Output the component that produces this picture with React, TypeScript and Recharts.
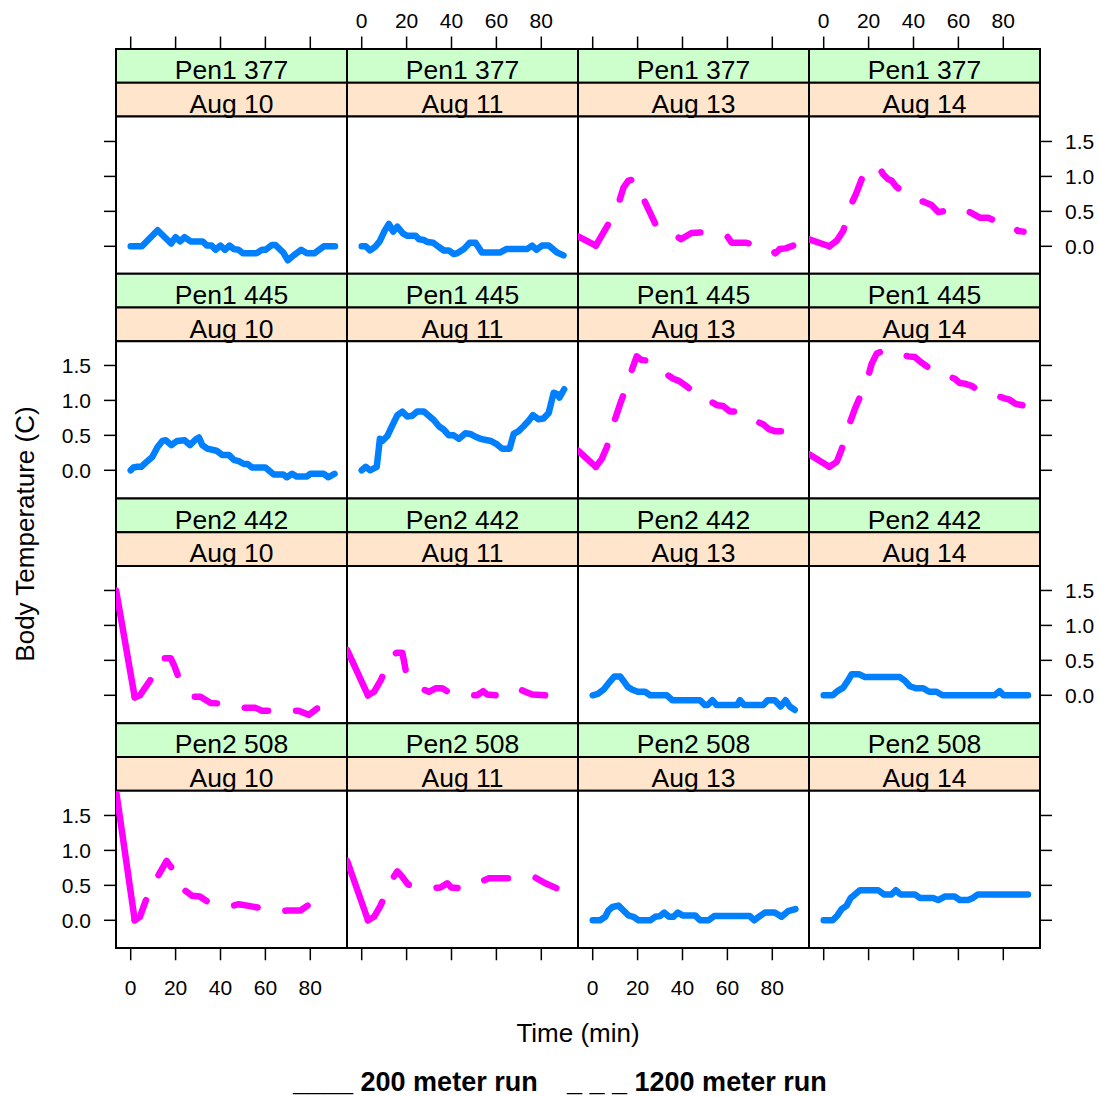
import React from 'react';
import { LineChart, Line, XAxis, YAxis } from 'recharts';

// lattice-like colours
const BLUE = '#0080ff';
const MAGENTA = '#ff00ff';
const STRIP_OUTER = '#ccffcc';
const STRIP_INNER = '#ffe5cc';
const FONT = '"Liberation Sans", Arial, Helvetica, sans-serif';

const pens = ['Pen1 377', 'Pen1 445', 'Pen2 442', 'Pen2 508'];
const days = ['Aug 10', 'Aug 11', 'Aug 13', 'Aug 14'];
const timeTicks = [0, 20, 40, 60, 80];
const tempTicks = [0, 0.5, 1, 1.5];

type Pt = [number, number]; // [time (min), body temperature change (C)]

const pen1_377_aug10: Pt[] = [
  [0, 0], [5, 0], [12, 0.23], [18, 0.04], [20, 0.13], [22, 0.07], [24, 0.13], [26.7, 0.07], [32, 0.07],
  [34, 0.01], [36, 0.01], [37.8, -0.05], [40, 0.01], [42, -0.05], [44, 0.01], [46, -0.04], [48, -0.05],
  [50, -0.1], [56, -0.1], [58.5, -0.05], [60, -0.05], [63, 0.02], [64.4, 0.02], [68, -0.09], [70, -0.2],
  [72.6, -0.13], [75.9, -0.05], [78.5, -0.1], [81.8, -0.1], [86, 0], [91, 0],
];
const pen1_377_aug11: Pt[] = [
  [0, 0], [1.8, 0], [3.7, -0.06], [6.2, 0], [8, 0.07], [10.2, 0.22], [12.1, 0.32], [14, 0.21], [15.9, 0.28],
  [18.5, 0.18], [20.3, 0.15], [24, 0.15], [25.5, 0.1], [27.7, 0.09], [29.2, 0.06], [31.9, 0.05], [34.4, -0.01],
  [36.6, -0.06], [38.8, -0.06], [41, -0.11], [42.5, -0.1], [45.5, -0.04], [48.1, 0.05], [50.7, 0.05],
  [53.6, -0.09], [61.5, -0.09], [64.4, -0.04], [73.6, -0.04], [75.9, 0.01], [77.8, -0.05], [80.3, 0.01],
  [83.3, 0.01], [87, -0.09], [89.9, -0.13],
];
const pen1_377_aug13: Pt[] = [
  [-6.5, 0.14], [1.4, 0.01], [7, 0.32], [11.9, 0.65], [13.7, 0.84], [15.9, 0.94], [18.6, 0.96], [22.6, 0.68],
  [28.2, 0.3], [37.7, 0.14], [39.3, 0.1], [44, 0.19], [48.5, 0.2], [57.4, 0.15], [60, 0.14], [61.9, 0.05],
  [68.5, 0.05], [78.9, -0.03], [81.4, -0.1], [83.3, -0.04], [85.9, -0.03], [89.3, 0.01],
];
const pen1_377_aug14: Pt[] = [
  [-6.5, 0.1], [2.5, 0], [5.8, 0.08], [8.7, 0.22], [12.1, 0.59], [14.4, 0.75], [16.9, 0.96], [24.3, 1.15],
  [26.5, 1.03], [28.7, 0.96], [30.2, 0.94], [32.4, 0.85], [41, 0.66], [44.3, 0.64], [48, 0.59], [51, 0.49],
  [61.8, 0.54], [65, 0.49], [69.5, 0.41], [73.2, 0.41], [82.1, 0.28], [85, 0.27], [86.5, 0.22], [89, 0.21],
];

const pen1_445_aug10: Pt[] = [
  [0, 0], [1.2, 0.04], [3, 0.05], [4.7, 0.05], [6.7, 0.11], [9.6, 0.19], [11.9, 0.33], [14.1, 0.42],
  [15.6, 0.43], [18.1, 0.36], [20.7, 0.42], [24, 0.43], [26.4, 0.36], [28.9, 0.44], [30.4, 0.47], [31.9, 0.36],
  [34.1, 0.31], [38.2, 0.28], [40.7, 0.22], [43.7, 0.22], [45.9, 0.15], [48.1, 0.13], [50.4, 0.09],
  [52.1, 0.09], [54, 0.04], [60, 0.04], [63.7, -0.06], [67.9, -0.06], [69.6, -0.1], [71.9, -0.05],
  [74, -0.09], [78.5, -0.09], [80, -0.05], [86, -0.05], [88.1, -0.1], [90.8, -0.05],
];
const pen1_445_aug11: Pt[] = [
  [0, 0], [1.8, 0.05], [3.7, 0], [6.7, 0.05], [8.1, 0.45], [9.2, 0.42], [11.4, 0.49], [13.6, 0.64],
  [15.9, 0.79], [18.1, 0.84], [20.3, 0.77], [22.5, 0.78], [24.7, 0.84], [27.7, 0.84], [29.9, 0.78],
  [32.1, 0.72], [34.4, 0.63], [36.6, 0.58], [38.8, 0.5], [41, 0.5], [43.3, 0.45], [46.2, 0.53], [48.4, 0.52],
  [50.7, 0.48], [52.9, 0.45], [57.6, 0.42], [60.3, 0.37], [62.5, 0.31], [65.9, 0.31], [67.7, 0.52],
  [69.9, 0.56], [72.1, 0.63], [74.4, 0.71], [76.3, 0.79], [78.8, 0.73], [81, 0.74], [83.3, 0.82],
  [85.5, 1.11], [87, 1.09], [88.1, 1.04], [90.2, 1.16],
];
const pen1_445_aug13: Pt[] = [
  [-6.5, 0.28], [1.4, 0.05], [4, 0.16], [6.3, 0.33], [9.7, 0.71], [11.2, 0.85], [12.2, 0.95], [13.7, 1.08],
  [17.7, 1.46], [19.6, 1.63], [21.6, 1.58], [24.1, 1.57], [26, 1.52], [35.9, 1.31], [38.4, 1.28],
  [41.9, 1.2], [45.9, 1.1], [55.6, 0.93], [58.1, 0.92], [61.1, 0.84], [63.3, 0.84], [65.6, 0.79],
  [75.9, 0.66], [78.4, 0.59], [81.1, 0.56], [87.8, 0.56],
];
const pen1_445_aug14: Pt[] = [
  [-6.5, 0.23], [2.5, 0.05], [5.8, 0.12], [8, 0.3], [11.4, 0.66], [13.9, 0.88], [15.9, 1.03], [20.3, 1.4],
  [21.3, 1.52], [23.6, 1.67], [27.3, 1.72], [37.6, 1.63], [40.6, 1.62], [43.6, 1.54], [48.4, 1.43],
  [58.4, 1.31], [60.6, 1.25], [62.8, 1.24], [65.8, 1.21], [68.7, 1.15], [80.6, 1.03], [82.8, 1.01],
  [85.5, 0.95], [88.7, 0.93],
];

const pen2_442_aug10: Pt[] = [
  [-6.5, 1.5], [1.8, -0.03], [4.1, 0], [8.6, 0.21], [13.6, 0.53], [17.8, 0.53], [19.3, 0.43], [21.5, 0.24],
  [28.4, -0.02], [31.1, -0.02], [35.6, -0.11], [40.7, -0.12], [51.1, -0.18], [55.6, -0.18], [58.5, -0.22],
  [63.7, -0.22], [74.8, -0.22], [79.3, -0.28], [83, -0.19], [85.9, -0.18],
];
const pen2_442_aug11: Pt[] = [
  [-6.5, 0.65], [2.8, 0], [5.5, 0.05], [8.4, 0.21], [13.6, 0.57], [15.6, 0.61], [18.1, 0.61], [19.6, 0.36],
  [27.7, 0.08], [29.9, 0.05], [32.9, 0.1], [35.9, 0.1], [38.4, 0.05], [47.3, 0], [51.4, 0], [54.1, 0.06],
  [55.9, 0.01], [60, 0], [69.5, 0.1], [72.9, 0.05], [75.9, 0.01], [81.8, 0],
];
const pen2_442_aug13: Pt[] = [
  [0, 0], [2.3, 0.02], [4.8, 0.08], [7, 0.17], [9.7, 0.27], [12.2, 0.27], [14.1, 0.19], [15.6, 0.12],
  [17.7, 0.08], [20.1, 0.05], [23.3, 0.05], [25.6, 0], [33, 0], [35.5, -0.07], [47.8, -0.07], [50, -0.14],
  [51.2, -0.14], [53.3, -0.07], [55.2, -0.14], [64.4, -0.14], [65.6, -0.07], [67.5, -0.14], [75.9, -0.14],
  [77.9, -0.07], [81.1, -0.07], [83.7, -0.16], [85.9, -0.07], [87.8, -0.16], [90, -0.21],
];
const pen2_442_aug14: Pt[] = [
  [0, 0], [4, 0], [6.1, 0.06], [8.7, 0.11], [11, 0.22], [12.4, 0.3], [15.9, 0.3], [18.4, 0.26], [33.9, 0.26],
  [36.1, 0.21], [38.4, 0.13], [41, 0.1], [44.3, 0.1], [47, 0.05], [50.2, 0.05], [52.9, 0], [76.1, 0],
  [78.4, 0.06], [80.1, 0], [91, 0],
];

const pen2_508_aug10: Pt[] = [
  [-6.5, 1.85], [1.8, 0], [4.1, 0.05], [6.7, 0.28], [11.9, 0.62], [16, 0.85], [18.5, 0.74], [24, 0.43],
  [27.4, 0.35], [30.8, 0.34], [34.1, 0.27], [45.6, 0.21], [48.1, 0.23], [51.9, 0.21], [57, 0.18],
  [66.7, 0.13], [69.6, 0.14], [75.6, 0.14], [78.8, 0.21],
];
const pen2_508_aug11: Pt[] = [
  [-6.5, 0.85], [2.8, 0], [5.5, 0.05], [8.4, 0.21], [13.2, 0.57], [15.9, 0.7], [18.1, 0.62], [20.7, 0.51],
  [31.4, 0.46], [35.1, 0.47], [38.1, 0.53], [39.9, 0.47], [43.7, 0.46], [53.6, 0.56], [56.6, 0.6], [67, 0.6],
  [76.9, 0.62], [79.6, 0.57], [81.8, 0.53], [86.7, 0.46],
];
const pen2_508_aug13: Pt[] = [
  [0, 0], [3.3, 0], [5.6, 0.05], [7, 0.14], [8.8, 0.19], [11.5, 0.21], [13.7, 0.14], [15.9, 0.07],
  [18.1, 0.05], [20.4, 0], [25.6, 0], [27.8, 0.05], [30, 0.06], [31.9, 0.11], [34, 0.05], [35.9, 0.05],
  [37.9, 0.11], [40, 0.07], [45.6, 0.07], [47.8, 0], [51.5, 0], [54.1, 0.06], [70, 0.06], [71.9, 0],
  [74.4, 0.06], [76.7, 0.11], [81.1, 0.11], [84.1, 0.05], [87, 0.13], [90.3, 0.16],
];
const pen2_508_aug14: Pt[] = [
  [0, 0], [4, 0], [6.1, 0.07], [8, 0.16], [10.2, 0.21], [12, 0.32], [13.9, 0.37], [16.1, 0.43], [24.3, 0.43],
  [26.8, 0.37], [30.2, 0.37], [32.1, 0.43], [34.2, 0.37], [40.6, 0.37], [42.8, 0.32], [48.7, 0.32],
  [51, 0.29], [53.9, 0.34], [58.4, 0.34], [60.6, 0.29], [64.3, 0.29], [66.5, 0.32], [68.7, 0.37], [91, 0.37],
];

// which run each panel belongs to (200 m = solid blue, 1200 m = dashed magenta)
const panelSeries: Pt[][][] = [
  [pen1_377_aug10, pen1_377_aug11, pen1_377_aug13, pen1_377_aug14],
  [pen1_445_aug10, pen1_445_aug11, pen1_445_aug13, pen1_445_aug14],
  [pen2_442_aug10, pen2_442_aug11, pen2_442_aug13, pen2_442_aug14],
  [pen2_508_aug10, pen2_508_aug11, pen2_508_aug13, pen2_508_aug14],
];
const panelRun: number[][] = [
  [200, 200, 1200, 1200],
  [200, 200, 1200, 1200],
  [1200, 1200, 200, 200],
  [1200, 1200, 200, 200],
];

// layout
const LEFT = 116;
const COLW = 231;
const TOP = 49;
const STRIPH = 33.75;
const PANELH = 157.25;
const ROWH = STRIPH * 2 + PANELH;
const PAD = 120;
const AX = 40; // space given to an outer axis
const XDOM: [number, number] = [-6.55, 96.35];
const YDOM: [number, number] = [-0.4, 1.85];
const TICK_FONT = 21;

const tickStyle = { fill: '#000', fontSize: TICK_FONT, fontFamily: FONT };
const tickLine = { stroke: '#000', strokeWidth: 1.5 };

const TopTick = ({ x, payload, showLabel }: any) => {
  const yb = PAD - 2 * STRIPH;
  return (
    <g>
      <line x1={x} x2={x} y1={yb - 13} y2={yb} stroke="#000" strokeWidth={1.5} />
      {showLabel && (
        <text x={x} y={yb - 21.5} textAnchor="middle" fontSize={TICK_FONT} fontFamily={FONT} fill="#000">
          {payload.value}
        </text>
      )}
    </g>
  );
};

const Panel = ({ r, c }: { r: number; c: number }) => {
  const x0 = LEFT + c * COLW;
  const y0 = TOP + r * ROWH + 2 * STRIPH;
  const pts = panelSeries[r][c].map(([t, v]) => ({ t, v }));
  const long = panelRun[r][c] === 1200;
  const lineProps = {
    type: 'linear' as const,
    dataKey: 'v',
    strokeWidth: 6.5,
    dot: false,
    activeDot: false,
    isAnimationActive: false,
    strokeLinecap: 'round' as const,
    strokeLinejoin: 'round' as const,
  };
  const margin = {
    top: r === 0 ? PAD - AX : PAD,
    bottom: r === 3 ? PAD - AX : PAD,
    left: c === 0 ? PAD - AX : PAD,
    right: c === 3 ? PAD - AX : PAD,
  };
  return (
    <div style={{ position: 'absolute', left: x0 - PAD, top: y0 - PAD }}>
      <LineChart width={COLW + 2 * PAD} height={PANELH + 2 * PAD} margin={margin}>
        {r === 0 ? (
          <XAxis
            type="number"
            dataKey="t"
            domain={XDOM}
            allowDataOverflow
            ticks={timeTicks}
            interval={0}
            orientation="top"
            height={AX}
            axisLine={false}
            tickLine={false}
            tick={(p: any) => <TopTick {...p} showLabel={c % 2 === 1} />}
          />
        ) : r === 3 ? (
          <XAxis
            type="number"
            dataKey="t"
            domain={XDOM}
            allowDataOverflow
            ticks={timeTicks}
            interval={0}
            orientation="bottom"
            height={AX}
            axisLine={false}
            tickLine={tickLine}
            tickSize={12}
            tickMargin={20}
            tick={tickStyle}
            tickFormatter={(v: number) => (c % 2 === 0 ? String(v) : '')}
          />
        ) : (
          <XAxis type="number" dataKey="t" domain={XDOM} allowDataOverflow hide />
        )}
        {c === 0 || c === 3 ? (
          <YAxis
            type="number"
            domain={YDOM}
            allowDataOverflow
            ticks={tempTicks}
            interval={0}
            orientation={c === 0 ? 'left' : 'right'}
            width={AX}
            axisLine={false}
            tickLine={tickLine}
            tickSize={12}
            tickMargin={13}
            tick={tickStyle}
            tickFormatter={(v: number) =>
              (c === 0 ? r % 2 === 1 : r % 2 === 0) ? v.toFixed(1) : ''
            }
          />
        ) : (
          <YAxis type="number" domain={YDOM} allowDataOverflow hide />
        )}
        {long ? (
          <>
            <Line {...lineProps} data={pts.slice(0, 2)} stroke={MAGENTA} />
            <Line {...lineProps} data={pts.slice(1)} stroke={MAGENTA} strokeDasharray="24 28" />
          </>
        ) : (
          <Line {...lineProps} data={pts} stroke={BLUE} />
        )}
      </LineChart>
    </div>
  );
};

export default function App() {
  const cells: React.ReactNode[] = [];
  const frames: React.ReactNode[] = [];
  pens.forEach((pen, r) => {
    days.forEach((day, c) => {
      const x = LEFT + c * COLW;
      const y = TOP + r * ROWH;
      frames.push(
        <g key={`f-${r}-${c}`}>
          <rect x={x} y={y} width={COLW} height={STRIPH} fill={STRIP_OUTER} stroke="#000" strokeWidth={2} />
          <rect x={x} y={y + STRIPH} width={COLW} height={STRIPH} fill={STRIP_INNER} stroke="#000" strokeWidth={2} />
          <rect x={x} y={y + 2 * STRIPH} width={COLW} height={PANELH} fill="#fff" stroke="#000" strokeWidth={2} />
          <text x={x + COLW / 2} y={y + 30} textAnchor="middle" fontSize={26.5} fontFamily={FONT} fill="#000">
            {pen}
          </text>
          <text x={x + COLW / 2} y={y + STRIPH + 30} textAnchor="middle" fontSize={26.5} fontFamily={FONT} fill="#000">
            {day}
          </text>
        </g>
      );
      cells.push(<Panel key={`p-${r}-${c}`} r={r} c={c} />);
    });
  });

  return (
    <div style={{ position: 'absolute', left: 0, top: 0, width: 1099, height: 1097, background: '#fff', fontFamily: FONT }}>
      <svg width={1099} height={1097} style={{ position: 'absolute', left: 0, top: 0 }}>
        {frames}
        <text
          transform="translate(34, 534) rotate(-90)"
          textAnchor="middle"
          fontSize={26}
          fontFamily={FONT}
          fill="#000"
        >
          Body Temperature (C)
        </text>
        <text x={578} y={1042} textAnchor="middle" fontSize={26} fontFamily={FONT} fill="#000">
          Time (min)
        </text>
        <text x={293} y={1091} fontSize={27} fontWeight="bold" fontFamily={FONT} fill="#000">
          ____ 200 meter run
        </text>
        <text x={567} y={1091} fontSize={27} fontWeight="bold" fontFamily={FONT} fill="#000">
          _ _ _ 1200 meter run
        </text>
      </svg>
      {cells}
    </div>
  );
}
